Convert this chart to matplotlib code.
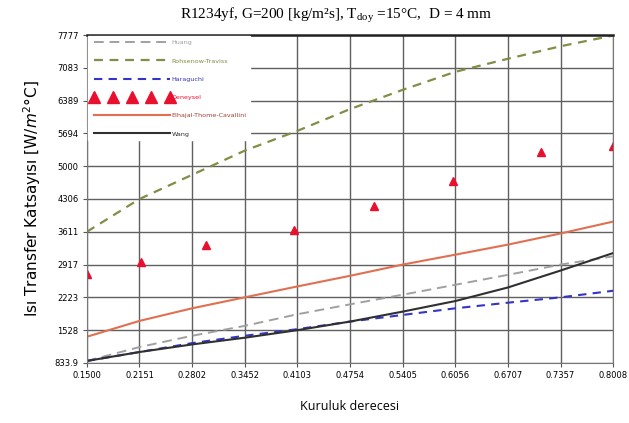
import matplotlib
matplotlib.use("Agg")
import matplotlib.pyplot as plt

# x positions of the ticks / model curves
x_ticks = [0.1500, 0.2151, 0.2802, 0.3452, 0.4103, 0.4754, 0.5405, 0.6056, 0.6707, 0.7357, 0.8008]
y_ticks = [833.9, 1528, 2223, 2917, 3611, 4306, 5000, 5694, 6389, 7083, 7777]
x_tick_labels = ["0.1500", "0.2151", "0.2802", "0.3452", "0.4103", "0.4754",
                 "0.5405", "0.6056", "0.6707", "0.7357", "0.8008"]
y_tick_labels = ["833.9", "1528", "2223", "2917", "3611", "4306", "5000",
                 "5694", "6389", "7083", "7777"]

huang = [876, 1170, 1409, 1619, 1865, 2075, 2279, 2489, 2700, 2917, 3092]
rohsenow = [3611, 4306, 4818, 5330, 5749, 6210, 6618, 7000, 7277, 7541, 7770]
haraguchi = [876, 1065, 1254, 1409, 1549, 1710, 1850, 1991, 2110, 2223, 2363]
elhajal = [1388, 1724, 1991, 2223, 2454, 2679, 2917, 3127, 3340, 3576, 3828]
wang = [876, 1065, 1226, 1368, 1528, 1710, 1921, 2145, 2433, 2791, 3162]

# experimental points
exp_x = [0.150, 0.217, 0.2975, 0.406, 0.505, 0.603, 0.711, 0.800]
exp_y = [2721, 2966, 3330, 3646, 4151, 4678, 5294, 5435]

fig = plt.figure(figsize=(6.29, 4.23), dpi=100)
ax = fig.add_axes([0.138, 0.142, 0.837, 0.775])

ax.plot(x_ticks, huang, '--', color='#a0a0a0', lw=1.4, dashes=(5, 3), label='Huang')
ax.plot(x_ticks, rohsenow, '--', color='#7f8f45', lw=1.6, dashes=(4, 3), label='Rohsenow-Traviss')
ax.plot(x_ticks, haraguchi, '--', color='#3434c8', lw=1.5, dashes=(4, 3), label='Haraguchi')
ax.plot(exp_x, exp_y, '^', color='#e8102e', ms=6, ls='none', label='Deneysel')
ax.plot(x_ticks, elhajal, '-', color='#e07050', lw=1.5, label='Elhajal-Thome-Cavallini')
ax.plot(x_ticks, wang, '-', color='#303030', lw=1.5, label='Wang')

ax.set_xlim(0.15, 0.8008)
ax.set_ylim(833.9, 7777)
ax.set_xticks(x_ticks)
ax.set_xticklabels(x_tick_labels)
ax.set_yticks(y_ticks)
ax.set_yticklabels(y_tick_labels)
ax.tick_params(labelsize=6, length=3, color='#555555', pad=3)
ax.grid(True, color='#606060', lw=1.0)
ax.set_axisbelow(True)
for side in ['left', 'right', 'bottom']:
    ax.spines[side].set_color('#777777')
ax.spines['top'].set_linewidth(1.8)
ax.spines['top'].set_color('#222222')

leg = ax.legend(loc='upper left', frameon=True, fontsize=4.6, handlelength=12.5,
                numpoints=5, markerscale=1.35, labelspacing=2.0, handletextpad=0.0,
                borderaxespad=0.15, borderpad=0.6, fancybox=False)
leg.get_frame().set_edgecolor('white')
leg.get_frame().set_alpha(1)
for txt, c in zip(leg.get_texts(), ['#a0a0a0', '#7f8f45', '#3434c8', '#e8102e', '#a04030', '#303030']):
    txt.set_color(c)

ax.set_xlabel('Kuruluk derecesi', fontsize=9, family='Open Sans', labelpad=14)
ax.set_ylabel('Isı Transfer Katsayısı [W/$m^{2}$°C]', fontsize=11, labelpad=8)

fig.text(0.535, 0.965, r'R1234yf, G=200 [kg/m²s], T$_{\mathregular{doy}}$ =15°C,  D = 4 mm',
         ha='center', va='center', fontsize=11, family='Liberation Serif')

fig.savefig('out.png', dpi=100)
